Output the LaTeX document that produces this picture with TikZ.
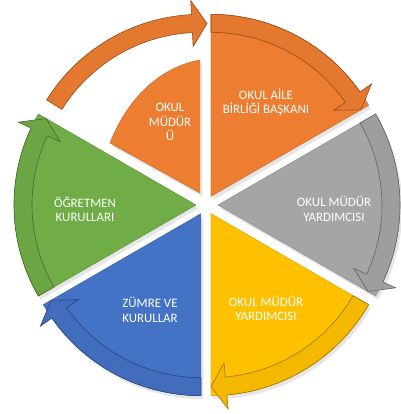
\documentclass[tikz,border=0pt]{standalone}
\usepackage{fontspec}
\setmainfont{Carlito}
\usetikzlibrary{shadows}

\definecolor{segorange}{HTML}{ED7D31}
\definecolor{seggray}{HTML}{A5A5A5}
\definecolor{segyellow}{HTML}{FFC000}
\definecolor{segblue}{HTML}{4472C4}
\definecolor{seggreen}{HTML}{70AD47}

% curved arrow along the rim of one segment: shift, start angle, colour
\newcommand{\ringarrow}[3]{%
  \begin{scope}[shift={(#1)}]
    \draw[band=#3] (#2:182) arc[start angle=#2,end angle=#2-55,radius=182]
      -- (#2-55:196) -- (#2-60:173) -- (#2-55:150) -- (#2-55:164)
      arc[start angle=#2-55,end angle=#2,radius=164] -- cycle;
  \end{scope}}

\begin{document}
\begin{tikzpicture}[x=0.03cm,y=0.03cm,
        wedge/.style={fill=#1,draw=#1!85!black,line width=0.4pt,
          drop shadow={opacity=0.2,shadow xshift=2pt,shadow yshift=-3pt}},
        band/.style={fill=#1!96!black,draw=#1!60!black,line width=0.5pt},
        lbl/.style={text=white,align=center,font=\fontsize{11}{12.2}\selectfont}
    ]
        \useasboundingbox (-206,-209) rectangle (195,205);

        % Define the segments
        \path[wedge=segorange] (-6,12) -- (-96,62) .. controls (-78,108) and (-45,138) .. (-6,145) -- cycle;
        \path[wedge=segorange] (60:10) -- ++(30:182) arc[start angle=30,end angle=90,radius=182] -- cycle;
        \path[wedge=seggray] (0:12) -- ++(-30:182) arc[start angle=-30,end angle=30,radius=182] -- cycle;
        \path[wedge=segyellow] (-60:10) -- ++(-90:182) arc[start angle=-90,end angle=-30,radius=182] -- cycle;
        \path[wedge=segblue] (-120:10) -- ++(-150:182) arc[start angle=-150,end angle=-90,radius=182] -- cycle;
        \path[wedge=seggreen] (180:10) -- ++(150:182) arc[start angle=150,end angle=210,radius=182] -- cycle;

        % Draw the arrows round the rim
        \ringarrow{120:10}{148}{segorange}
        \ringarrow{60:10}{90}{segorange}
        \ringarrow{0:12}{30}{seggray}
        \ringarrow{-60:10}{-30}{segyellow}
        \ringarrow{-120:10}{-90}{segblue}
        \ringarrow{180:10}{210}{seggreen}

        % Labels
        \node[lbl] (mudur) at (-36,83) {OKUL\\MÜDÜR\\Ü};
        \node[lbl] (aile) at (60,103) {OKUL AİLE\\BİRLİĞİ BAŞKANI};
        \node[lbl] (yardimci1) at (128,-4) {OKUL MÜDÜR\\YARDIMCISI};
        \node[lbl] (yardimci2) at (60,-103.5) {OKUL MÜDÜR\\YARDIMCISI};
        \node[lbl] (zumre) at (-56,-105) {ZÜMRE VE\\KURULLAR};
        \node[lbl] (ogretmen) at (-121,-4.5) {ÖĞRETMEN\\KURULLARI};
    \end{tikzpicture}
\end{document}
